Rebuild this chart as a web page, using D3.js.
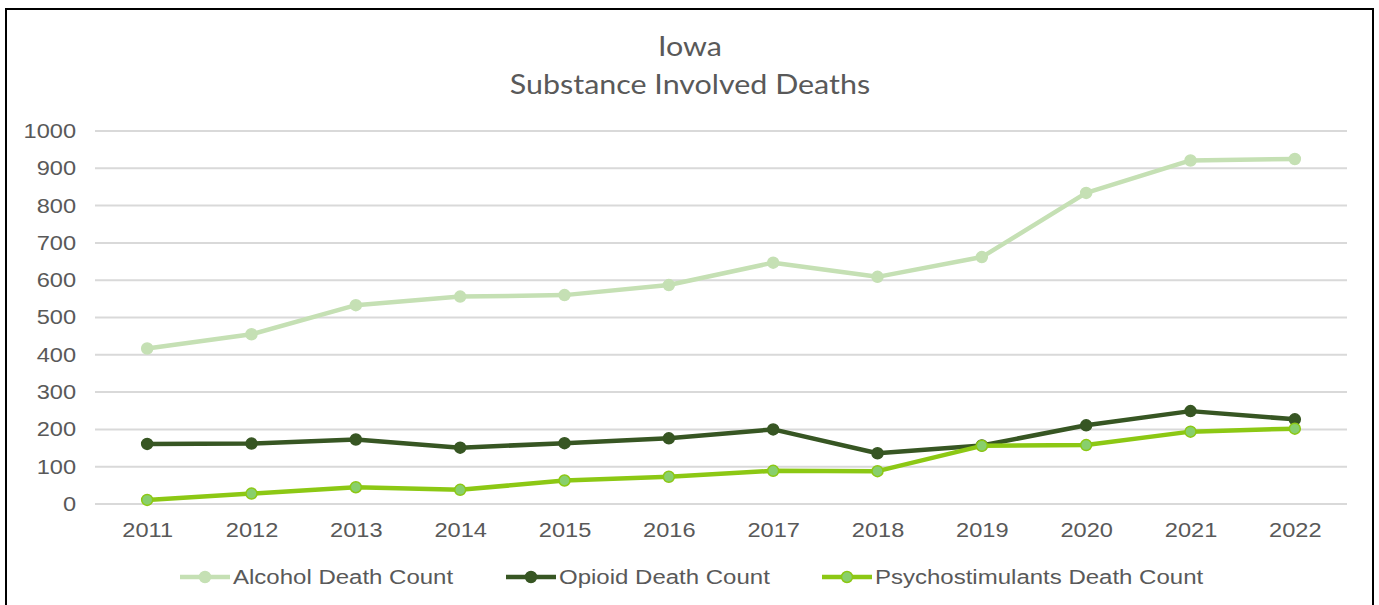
<!DOCTYPE html>
<html>
<head>
<meta charset="utf-8">
<script src="https://cdn.jsdelivr.net/npm/d3@7"></script>
<style>
  body { margin: 0; background: #fff; }
  svg text { font-family: "Liberation Sans", Arial, sans-serif; }
</style>
</head>
<body>
<script>
years = ["2011", "2012", "2013", "2014", "2015", "2016", "2017", "2018", "2019", "2020", "2021", "2022"];
alcohol = [417, 455, 533, 556, 560, 587, 647, 609, 662, 834, 921, 925];
opioid = [161, 162, 173, 151, 163, 176, 200, 136, 157, 211, 249, 227];
psycho = [11, 28, 45, 38, 63, 73, 89, 88, 156, 158, 194, 202];
yTicks = [0, 100, 200, 300, 400, 500, 600, 700, 800, 900, 1000];
titleLines = ["Iowa", "Substance Involved Deaths"];

let series = [
  { name: "Alcohol Death Count", values: alcohol, color: "#c5e0b4", fill: "#c5e0b4" },
  { name: "Opioid Death Count", values: opioid, color: "#375623", fill: "#375623" },
  { name: "Psychostimulants Death Count", values: psycho, color: "#8cc814", fill: "#88cf6c" }
];

let width = 1379, height = 605;

// the source text is drawn a bit wider than the font, stretch it
function stretch(sel, k) {
  sel.each(function() {
    let w = this.getComputedTextLength();
    d3.select(this)
      .attr("textLength", w * k)
      .attr("lengthAdjust", "spacingAndGlyphs");
  });
}

svg = d3.select("body")
  .append("svg")
  .attr("width", width)
  .attr("height", height);

// frame
svg.append("rect")
  .attr("x", 6).attr("y", 9)
  .attr("width", 1367).attr("height", 610)
  .attr("fill", "none")
  .attr("stroke", "#000")
  .attr("stroke-width", 2);

// title
svg.selectAll(".title")
  .data(titleLines)
  .enter()
  .append("text")
  .attr("class", "title")
  .attr("x", 690)
  .attr("y", (d, i) => 56 + i * 38)
  .attr("text-anchor", "middle")
  .style("font-family", "Lato, 'Open Sans', sans-serif")
  .style("font-size", "26px")
  .attr("fill", "#595959")
  .text(d => d)
  .call(stretch, 1.17);

let xScale = d3.scalePoint()
  .domain(years)
  .range([95, 1347])
  .padding(0.5);

let yScale = d3.scaleLinear()
  .domain([0, 1000])
  .range([504, 131]);

// gridlines
svg.append("g")
  .selectAll("line")
  .data(yTicks)
  .enter()
  .append("line")
  .attr("x1", 95).attr("x2", 1347)
  .attr("y1", d => yScale(d)).attr("y2", d => yScale(d))
  .attr("stroke", "#d9d9d9")
  .attr("stroke-width", 2);

// y axis labels
let yAxis = d3.axisLeft(yScale).tickValues(yTicks).tickFormat(d3.format("d")).tickSize(0).tickPadding(0);
let yg = svg.append("g")
  .attr("transform", "translate(76,0)")
  .call(yAxis);
yg.select(".domain").remove();
yg.selectAll("text")
  .style("font-size", "20px")
  .attr("fill", "#595959")
  .call(stretch, 1.18);

// x axis labels
let xAxis = d3.axisBottom(xScale).tickSize(0).tickPadding(0);
let xg = svg.append("g")
  .attr("transform", "translate(0,523)")
  .call(xAxis);
xg.select(".domain").remove();
xg.selectAll("text")
  .style("font-size", "20px")
  .attr("fill", "#595959")
  .call(stretch, 1.18);

let line = d3.line()
  .x((d, i) => xScale(years[i]))
  .y(d => yScale(d));

series.forEach(function(s) {
  let g = svg.append("g");
  g.append("path")
    .attr("d", line(s.values))
    .attr("fill", "none")
    .attr("stroke", s.color)
    .attr("stroke-width", 4.5)
    .attr("stroke-linejoin", "round");
  g.selectAll("circle")
    .data(s.values)
    .enter()
    .append("circle")
    .attr("cx", (d, i) => xScale(years[i]))
    .attr("cy", d => yScale(d))
    .attr("r", 5.5)
    .attr("fill", s.fill)
    .attr("stroke", s.color)
    .attr("stroke-width", 1.5);
});

// legend
let legendX = [180, 506, 822];
let lg = svg.selectAll(".legend")
  .data(series)
  .enter()
  .append("g")
  .attr("class", "legend")
  .attr("transform", (d, i) => `translate(${legendX[i]},577)`);
lg.append("line")
  .attr("x1", 0).attr("x2", 50)
  .attr("stroke", d => d.color)
  .attr("stroke-width", 4.5);
lg.append("circle")
  .attr("cx", 25).attr("r", 5.5)
  .attr("fill", d => d.fill)
  .attr("stroke", d => d.color)
  .attr("stroke-width", 1.5);
lg.append("text")
  .attr("x", 53)
  .attr("dy", "0.35em")
  .style("font-size", "20px")
  .attr("fill", "#595959")
  .text(d => d.name)
  .call(stretch, 1.2);
</script>
</body>
</html>
